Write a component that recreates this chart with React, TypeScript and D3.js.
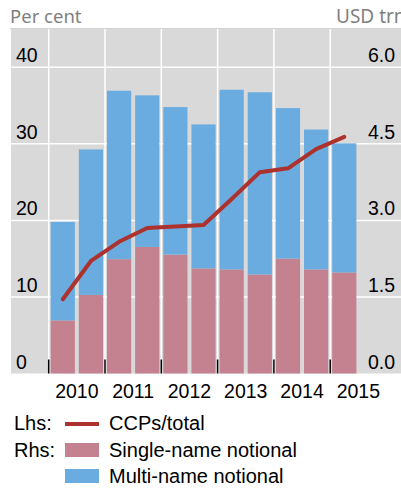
import * as d3 from 'd3';
import { useEffect, useRef } from 'react';

// half-year periods, 2010 H1 .. 2015 H1
const periods = ['2010H1', '2010H2', '2011H1', '2011H2', '2012H1', '2012H2', '2013H1', '2013H2', '2014H1', '2014H2', '2015H1'];
const slots = [...periods, '2015H2'];
const years = [2010, 2011, 2012, 2013, 2014, 2015];

// USD trn (rhs)
const singleName = [1.04, 1.54, 2.24, 2.48, 2.33, 2.06, 2.04, 1.94, 2.25, 2.04, 1.98];
const multiName = [1.93, 2.85, 3.3, 2.97, 2.89, 2.82, 3.52, 3.57, 2.95, 2.74, 2.53];
// per cent (lhs)
const ccpShare = [9.7, 14.7, 17.2, 19.0, 19.2, 19.4, 22.8, 26.3, 26.8, 29.3, 30.9];

const leftTicks = [0, 10, 20, 30, 40];
const rightTicks = [0, 1.5, 3, 4.5, 6];

const COLORS = {
    bg: '#d9d9d9',
    single: '#c48190',
    multi: '#6aacdf',
    line: '#ad312d',
};

function App() {
    return <Chart />;
}

const Chart = () => {
    const svgRef = useRef<SVGSVGElement | null>(null);

    useEffect(() => {
        document.body.style.margin = '0';
        const w = 401;
        const h = 490;
        const top = 29;
        const bottom = 373.5;
        const left = 11;
        const plotLeft = 48.7;
        const plotRight = 386.5;
        const font = '"Liberation Sans", Arial, sans-serif';

        const svg = d3.select(svgRef.current);
        svg.selectAll('*').remove();
        svg.attr('width', w).attr('height', h);

        const x = d3.scaleBand<string>().domain(slots).range([plotLeft, plotRight]).paddingInner(0.14).paddingOuter(0.07);
        const yearX = d3.scaleLinear().domain([2010, 2016]).range([plotLeft, plotRight]);
        const yL = d3.scaleLinear().domain([0, 45]).range([bottom, top]);
        const yR = d3.scaleLinear().domain([0, 6.75]).range([bottom, top]);

        // header line + background
        svg.append('line')
            .attr('x1', 10).attr('x2', w)
            .attr('y1', 28.5).attr('y2', 28.5)
            .attr('stroke', '#d4d4d4').attr('stroke-width', 1);
        svg.append('rect')
            .attr('x', left).attr('y', top)
            .attr('width', w - left).attr('height', bottom - top)
            .attr('fill', COLORS.bg);

        svg.append('text')
            .attr('x', 10).attr('y', 23)
            .attr('font-family', '"Noto Sans", "Open Sans", sans-serif')
            .attr('font-size', 18.5).attr('fill', '#7f7f7f')
            .text('Per cent');
        svg.append('text')
            .attr('x', 336).attr('y', 23)
            .attr('font-family', '"Noto Sans", "Open Sans", sans-serif')
            .attr('font-size', 19).attr('fill', '#7f7f7f')
            .text('USD trn');

        // gridlines
        svg.append('g').selectAll('line')
            .data(leftTicks.slice(1))
            .enter().append('line')
            .attr('x1', left).attr('x2', w)
            .attr('y1', (d) => yL(d)).attr('y2', (d) => yL(d))
            .attr('stroke', '#fff').attr('stroke-width', 1.5);
        svg.append('g').selectAll('line')
            .data(years)
            .enter().append('line')
            .attr('x1', (d) => yearX(d)).attr('x2', (d) => yearX(d))
            .attr('y1', top).attr('y2', bottom)
            .attr('stroke', '#fff').attr('stroke-width', 1.5);

        // stacked bars
        const rows = periods.map((p, i) => ({ p, single: singleName[i], multi: multiName[i] }));
        const stack = d3.stack<any>().keys(['single', 'multi'])(rows);
        const fills = [COLORS.single, COLORS.multi];
        stack.forEach((layer, li) => {
            svg.append('g').selectAll('rect')
                .data(layer)
                .enter().append('rect')
                .attr('x', (d: any) => x(d.data.p)!)
                .attr('width', x.bandwidth())
                .attr('y', (d) => yR(d[1]))
                .attr('height', (d) => yR(d[0]) - yR(d[1]))
                .attr('fill', fills[li]);
        });

        // year ticks
        svg.append('g').selectAll('line')
            .data(years)
            .enter().append('line')
            .attr('x1', (d) => yearX(d)).attr('x2', (d) => yearX(d))
            .attr('y1', bottom - 14).attr('y2', bottom)
            .attr('stroke', '#000').attr('stroke-width', 1.5);

        // CCP share line
        const line = d3.line<number>()
            .x((_, i) => x(periods[i])! + x.bandwidth() / 2)
            .y((d) => yL(d));
        svg.append('path')
            .attr('d', line(ccpShare))
            .attr('fill', 'none')
            .attr('stroke', COLORS.line)
            .attr('stroke-width', 4)
            .attr('stroke-linecap', 'round')
            .attr('stroke-linejoin', 'round');

        // axis labels
        svg.append('g').selectAll('text')
            .data(leftTicks)
            .enter().append('text')
            .attr('x', 16).attr('y', (d) => yL(d) - 5)
            .attr('font-family', font).attr('font-size', 19.5)
            .text((d) => d);
        svg.append('g').selectAll('text')
            .data(rightTicks)
            .enter().append('text')
            .attr('x', 395).attr('y', (d) => yR(d) - 5)
            .attr('text-anchor', 'end')
            .attr('font-family', font).attr('font-size', 19.5)
            .text((d) => d3.format('.1f')(d));
        svg.append('g').selectAll('text')
            .data(years)
            .enter().append('text')
            .attr('x', (d) => yearX(d + 0.5)).attr('y', 398)
            .attr('text-anchor', 'middle')
            .attr('font-family', font).attr('font-size', 19.5)
            .text((d) => d);

        // legend
        const lg = svg.append('g').attr('font-family', font).attr('font-size', 20);
        lg.append('text').attr('x', 14).attr('y', 430).text('Lhs:');
        lg.append('line')
            .attr('x1', 65).attr('x2', 99).attr('y1', 424).attr('y2', 424)
            .attr('stroke', COLORS.line).attr('stroke-width', 4);
        lg.append('text').attr('x', 109).attr('y', 430).text('CCPs/total');
        lg.append('text').attr('x', 14).attr('y', 456.5).text('Rhs:');
        lg.append('rect').attr('x', 65).attr('y', 443).attr('width', 34).attr('height', 14).attr('fill', COLORS.single);
        lg.append('text').attr('x', 109).attr('y', 456.5).text('Single-name notional');
        lg.append('rect').attr('x', 65).attr('y', 469).attr('width', 34).attr('height', 14).attr('fill', COLORS.multi);
        lg.append('text').attr('x', 109).attr('y', 482.5).text('Multi-name notional');
    }, []);

    return <svg ref={svgRef} style={{ display: 'block' }}></svg>;
};

export default App;
